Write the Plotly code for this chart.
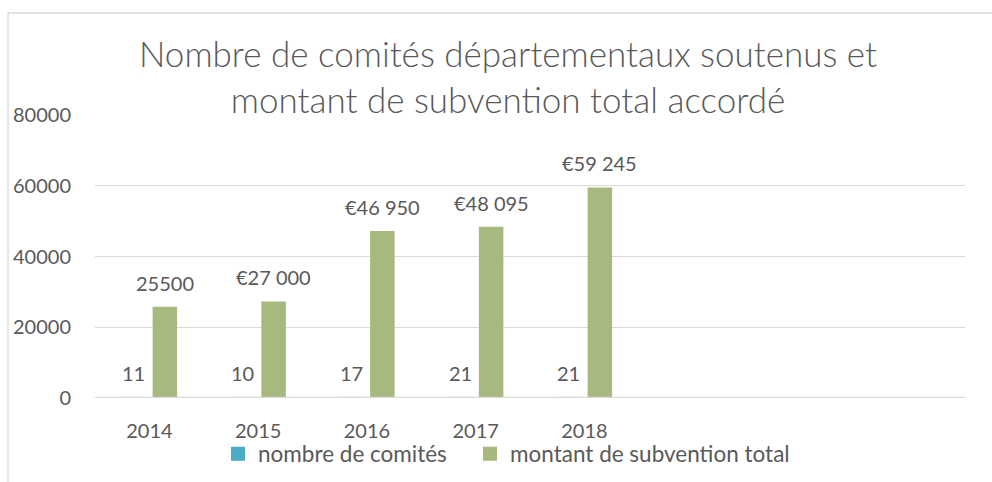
import plotly.graph_objects as go

# ---- data -------------------------------------------------------------
years = ["2014", "2015", "2016", "2017", "2018"]
nb_comites = [11, 10, 17, 21, 21]
montant_total = [25500, 27000, 46950, 48095, 59245]
montant_en_euros = [False, True, True, True, True]   # cell format of each amount
y_ticks = [0, 20000, 40000, 60000, 80000]

series_names = ["nombre de comités", "montant de subvention total"]
title_text = "Nombre de comités départementaux soutenus et<br>montant de subvention total accordé"

# ---- style --------------------------------------------------------------
W, H = 992, 482
ML, MR, MT, MB = 95, 27, 115, 84
PW, PH = W - ML - MR, H - MT - MB
TEXT = "#595959"
GRID = "#d9d9d9"
BLUE = "#4bacc6"
GREEN = "#a7b97e"
FONT = "Lato"
N_SLOTS = 8          # the category axis keeps room for three more years


def px_x(px):
    """pixel column -> paper x"""
    return (px - ML) / PW


def px_y(py):
    """pixel row -> paper y"""
    return (H - MB - py) / PH


def fmt_amount(v, euro):
    if not euro:
        return str(v)
    return "€" + f"{v:,}".replace(",", " ")


fig = go.Figure()
fig.add_trace(go.Bar(
    x=years, y=nb_comites, name=series_names[0],
    legend="legend", showlegend=True,
    marker=dict(color=BLUE, line=dict(color=BLUE, width=2)),
))
fig.add_trace(go.Bar(
    x=years, y=montant_total, name=series_names[1],
    legend="legend2", showlegend=True,
    marker=dict(color=GREEN, line=dict(color=GREEN, width=2)),
))

# value labels above each bar (x given as category index)
bar_shift = 15.5
label_font = dict(family=FONT, size=20, color=TEXT)
for i, v in enumerate(nb_comites):
    fig.add_annotation(x=i, y=v, text=str(v), showarrow=False,
                       xshift=-bar_shift, yshift=25, yanchor="middle",
                       font=label_font)
for i, (v, euro) in enumerate(zip(montant_total, montant_en_euros)):
    fig.add_annotation(x=i, y=v, text=fmt_amount(v, euro), showarrow=False,
                       xshift=bar_shift, yshift=25, yanchor="middle",
                       font=label_font)

# category axis baseline, drawn over the bars
fig.add_hline(y=0, line=dict(color=GRID, width=2.5), layer="above")

# outer chart frame (only its top and left edges fall inside the page)
fig.add_shape(type="rect", xref="paper", yref="paper",
              x0=px_x(8), x1=px_x(W + 10), y0=px_y(H + 10), y1=px_y(13),
              line=dict(color=GRID, width=1.3), fillcolor="rgba(0,0,0,0)",
              layer="below")

legend_style = dict(orientation="h", xref="paper", yref="paper",
                    xanchor="left", y=px_y(454), yanchor="middle",
                    font=dict(family=FONT, size=22.5, color=TEXT),
                    bgcolor="rgba(0,0,0,0)")

fig.update_layout(
    width=W, height=H,
    margin=dict(l=ML, r=MR, t=MT, b=MB, autoexpand=False),
    paper_bgcolor="white", plot_bgcolor="white",
    showlegend=True,
    barmode="group", bargap=0.43, bargroupgap=0.274,
    title=dict(text=title_text, x=508 / W, xref="container", xanchor="center",
               y=1 - 67 / H, yref="container", yanchor="top",
               font=dict(family=FONT, size=35, color=TEXT, weight=300)),
    legend=dict(x=px_x(218), **legend_style),
    legend2=dict(x=px_x(470), **legend_style),
    xaxis=dict(type="category", range=[-0.5, N_SLOTS - 0.5], automargin=False,
               showline=False, showgrid=False, ticks="", ticklabelstandoff=19,
               tickfont=dict(family=FONT, size=20, color=TEXT)),
    yaxis=dict(range=[0, 80000], tickvals=y_ticks, tickformat="d",
               automargin=False,
               showgrid=True, gridcolor=GRID, gridwidth=1.3,
               zeroline=False, showline=False, ticks="",
               ticklabelstandoff=23,
               tickfont=dict(family=FONT, size=20, color=TEXT)),
)

fig.write_html("out.html")
